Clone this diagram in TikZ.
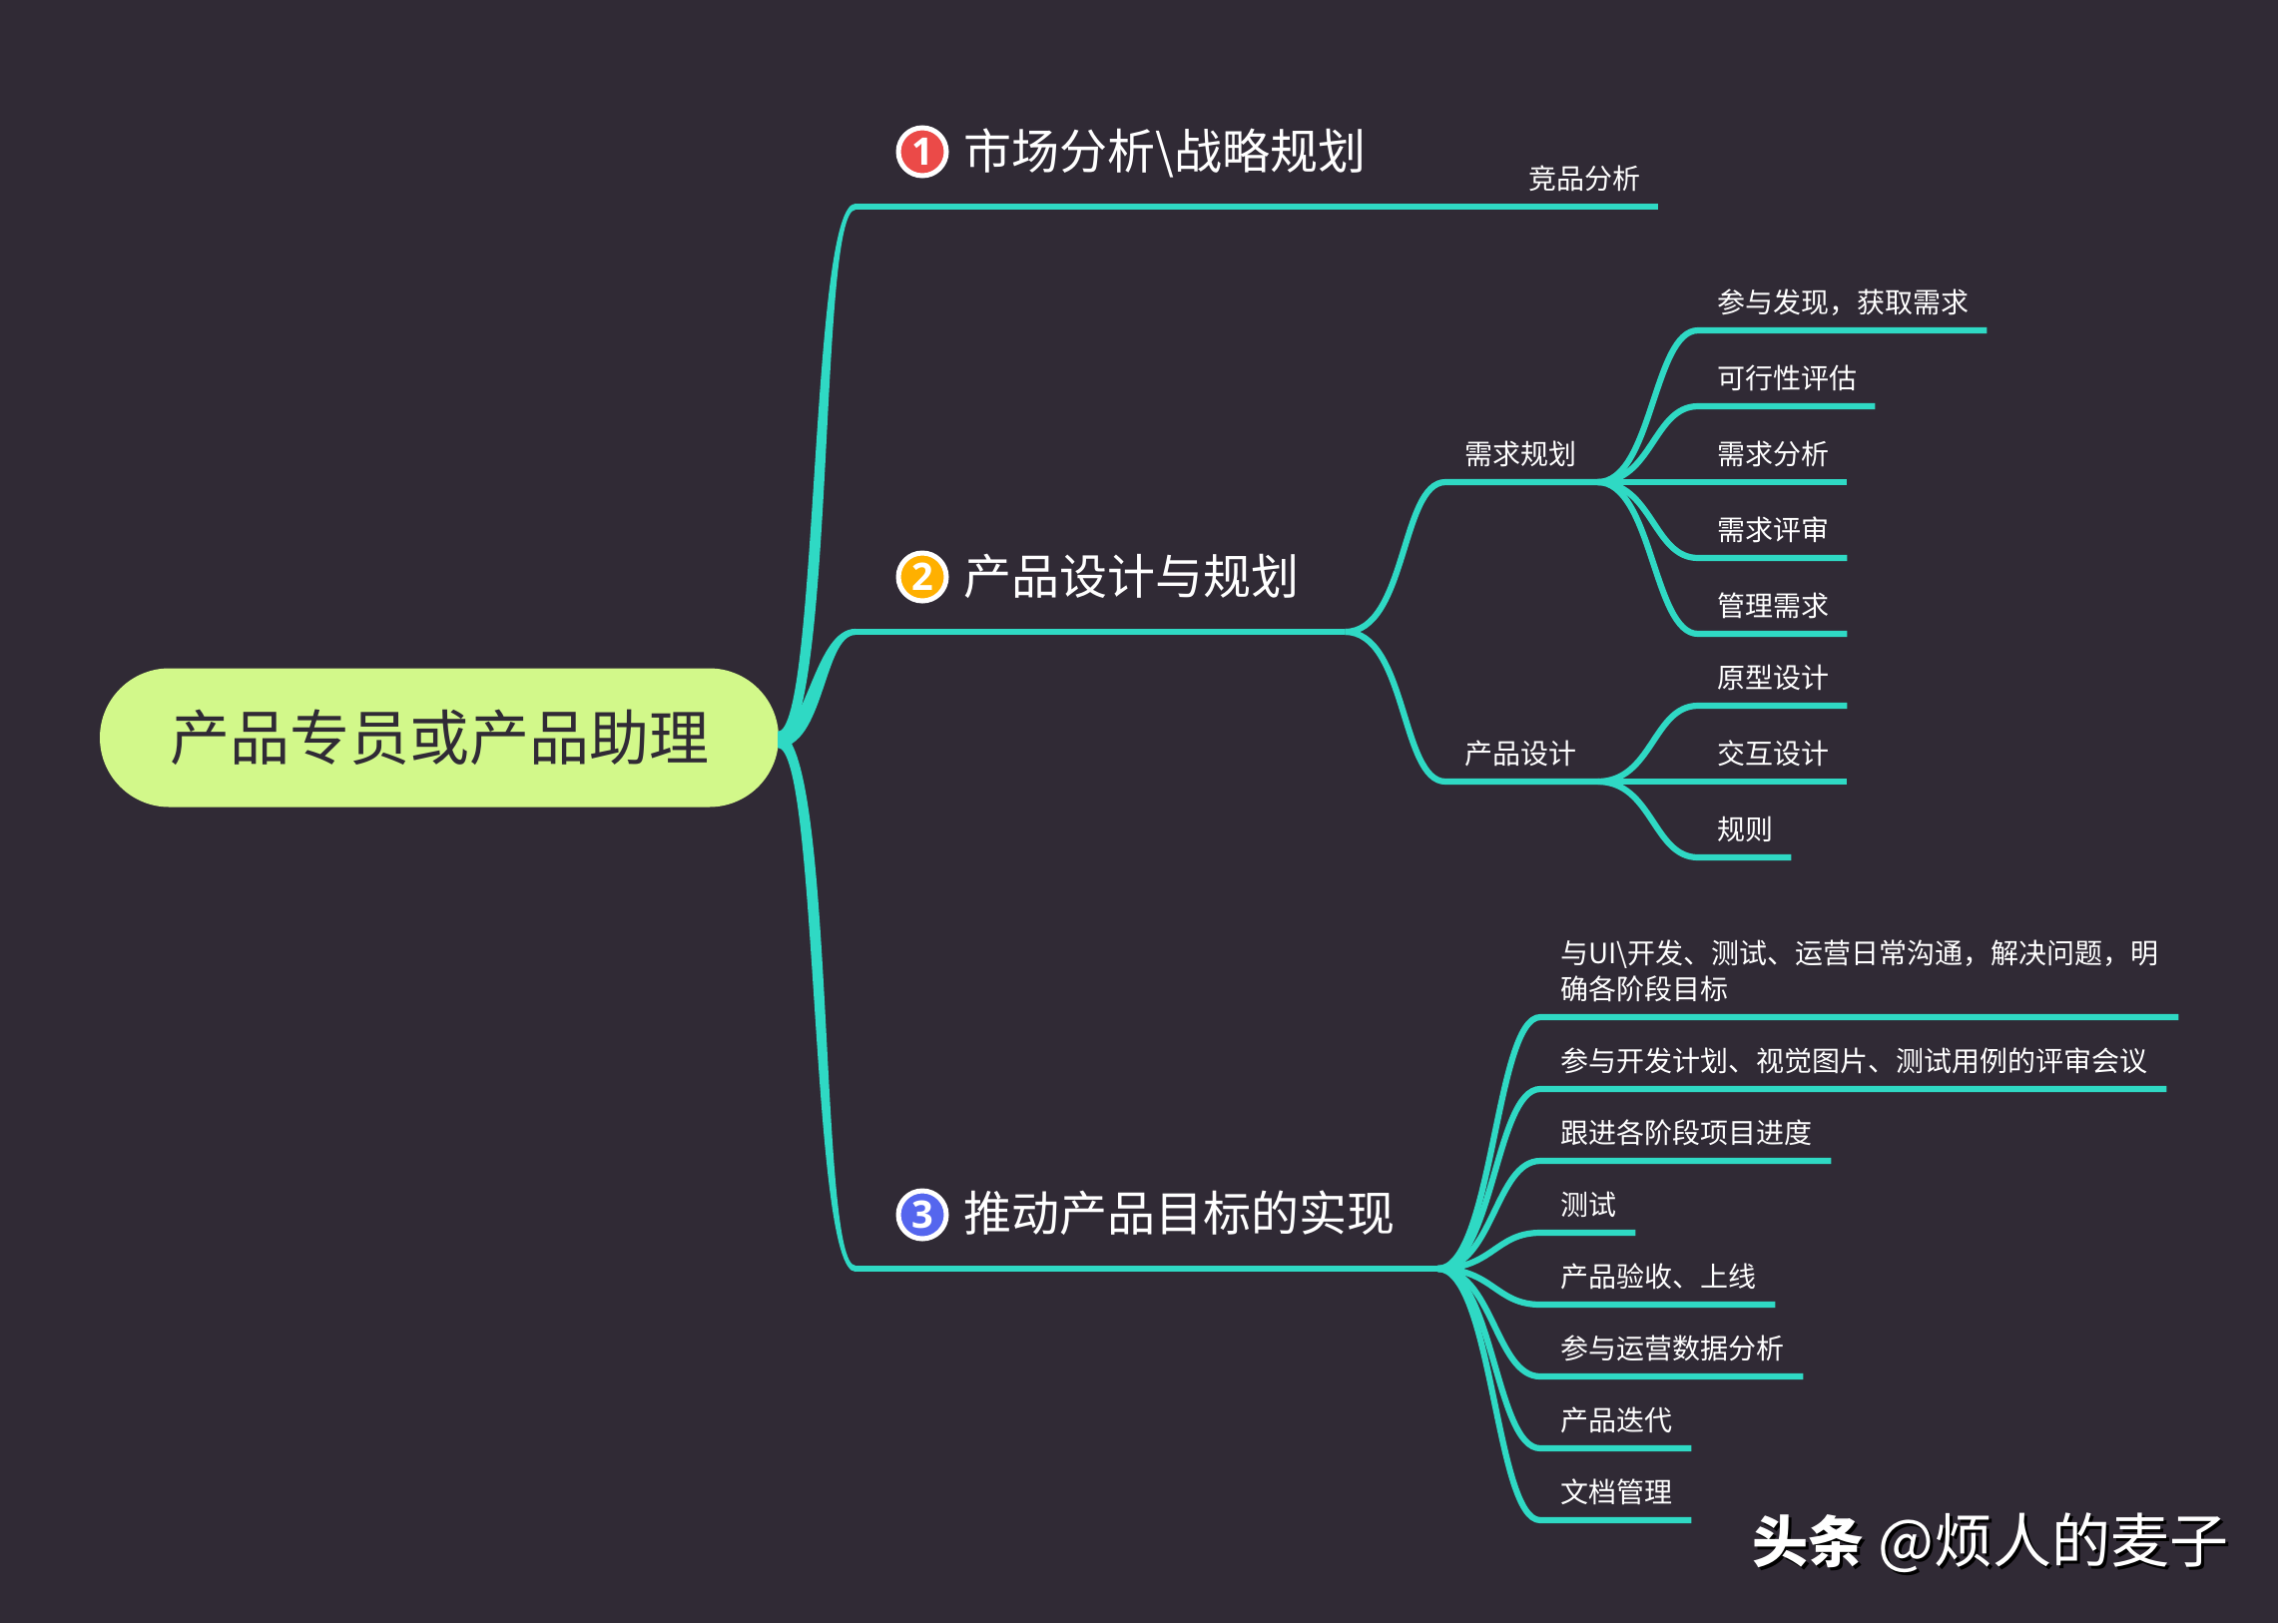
\documentclass[tikz,border=0pt]{standalone}
\usepackage{fontspec}
\setmainfont{Noto Sans CJK SC}
\newfontfamily\numfont{Open Sans}
\usetikzlibrary{shapes.misc,calc}
\definecolor{bgdark}{HTML}{302A35}
\definecolor{linkteal}{HTML}{2FD9C4}
\definecolor{rootlime}{HTML}{D2F88A}
\definecolor{iconred}{HTML}{EB4A48}
\definecolor{iconamber}{HTML}{FFB000}
\definecolor{iconblue}{HTML}{5566EE}
\tikzset{
  link/.style={draw=linkteal, line width=6.2pt},
  rootnode/.style={rounded rectangle, fill=rootlime, text=bgdark, minimum width=680pt, minimum height=139pt, inner sep=0pt, font=\fontsize{60}{70}\selectfont},
  linebox/.style={anchor=south west, inner sep=0pt, text=white, align=left},
  branchnode/.style={linebox, text depth=37pt, font=\fontsize{48}{56}\selectfont},
  leafnode/.style={linebox, text depth=17pt, font=\fontsize{28}{36}\selectfont},
  iconnode/.style={circle, draw=white, line width=5pt, minimum size=48pt, inner sep=0pt, text=white, font=\numfont\bfseries\fontsize{38}{44}\selectfont},
}
% thick root link that narrows towards the branch line
\newcommand{\taperlink}[4]{
  \fill[linkteal] ($(hub)+(0,-8)$) .. controls ($(hub)+({#2+#4*9},-8)$) and ($(#1)+({-#3+#4*4},-3.1)$) .. ($(#1)+(0,-3.1)$)
    -- ($(#1)+(0,3.1)$) .. controls ($(#1)+({-#3-#4*4},3.1)$) and ($(hub)+({#2-#4*9},8)$) .. ($(hub)+(0,8)$) -- cycle;
}
\newcommand{\leaflink}[3]{
  \draw[link] (#1) .. controls +(#3,0) and +(-45,0) .. (#2.south west) -- (#2.south east);
}
\begin{document}
\begin{tikzpicture}[x=1pt, y=-1pt]
  \path[fill=bgdark, use as bounding box] (0,0) rectangle (2282,1626);

  \node[rootnode] (root) at (440,739) {产品专员或产品助理};
  \coordinate (hub) at (779,741);

  % branches
  \node[branchnode, text width=653pt] (market) at (857,207) {\hspace*{108pt}市场分析\textbackslash 战略规划};
  \node[branchnode, text width=490pt] (design) at (857,633) {\hspace*{108pt}产品设计与规划};
  \node[branchnode, text width=583pt] (drive) at (857,1271) {\hspace*{108pt}推动产品目标的实现};
  \node[iconnode, fill=iconred] (iconmarket) at (924,152) {1};
  \node[iconnode, fill=iconamber] (icondesign) at (924,578) {2};
  \node[iconnode, fill=iconblue] (icondrive) at (924,1217) {3};

  \node[leafnode, text width=151pt] (compete) at (1510,207) {\hspace*{21pt}竞品分析};

  % second level
  \node[leafnode, text width=152pt] (demand) at (1448,483) {\hspace*{19pt}需求规划};
  \node[leafnode, text width=152pt] (proddesign) at (1448,783) {\hspace*{19pt}产品设计};

  \node[leafnode, text width=289pt] (discover) at (1701,331) {\hspace*{19pt}参与发现，获取需求};
  \node[leafnode, text width=177pt] (feasible) at (1701,407) {\hspace*{19pt}可行性评估};
  \node[leafnode, text width=149pt] (analyse) at (1701,483) {\hspace*{19pt}需求分析};
  \node[leafnode, text width=149pt] (review) at (1701,559) {\hspace*{19pt}需求评审};
  \node[leafnode, text width=149pt] (manage) at (1701,635) {\hspace*{19pt}管理需求};

  \node[leafnode, text width=149pt] (proto) at (1701,707) {\hspace*{19pt}原型设计};
  \node[leafnode, text width=149pt] (interact) at (1701,783) {\hspace*{19pt}交互设计};
  \node[leafnode, text width=93pt] (rules) at (1701,859) {\hspace*{19pt}规则};

  \node[leafnode, text width=639pt, text depth=53pt] (comms) at (1543,1019) {\hspace*{20pt}与UI\textbackslash 开发、测试、运营日常沟通，解决问题，明\\\hspace*{20pt}确各阶段目标};
  \node[leafnode, text width=627pt] (meeting) at (1543,1091) {\hspace*{20pt}参与开发计划、视觉图片、测试用例的评审会议};
  \node[leafnode, text width=291pt] (track) at (1543,1163) {\hspace*{20pt}跟进各阶段项目进度};
  \node[leafnode, text width=95pt] (testing) at (1543,1235) {\hspace*{20pt}测试};
  \node[leafnode, text width=235pt] (accept) at (1543,1307) {\hspace*{20pt}产品验收、上线};
  \node[leafnode, text width=263pt] (opsdata) at (1543,1379) {\hspace*{20pt}参与运营数据分析};
  \node[leafnode, text width=151pt] (iterate) at (1543,1451) {\hspace*{20pt}产品迭代};
  \node[leafnode, text width=151pt] (docs) at (1543,1523) {\hspace*{20pt}文档管理};

  % root to branches
  \taperlink{market.south west}{50}{42}{-1}
  \taperlink{design.south west}{38}{36}{-1}
  \taperlink{drive.south west}{50}{42}{1}

  \draw[link] (market.south west) -- (compete.south east);
  \draw[link] (design.south west) -- (design.south east);
  \draw[link] (drive.south west) -- (drive.south east);

  % design to second level
  \draw[link] (design.south east) .. controls +(62,0) and +(-45,0) .. (demand.south west) -- (demand.south east);
  \draw[link] (design.south east) .. controls +(62,0) and +(-45,0) .. (proddesign.south west) -- (proddesign.south east);

  % second level to leaves
  \leaflink{demand.south east}{discover}{55}
  \leaflink{demand.south east}{feasible}{55}
  \leaflink{demand.south east}{analyse}{55}
  \leaflink{demand.south east}{review}{55}
  \leaflink{demand.south east}{manage}{55}
  \leaflink{proddesign.south east}{proto}{55}
  \leaflink{proddesign.south east}{interact}{55}
  \leaflink{proddesign.south east}{rules}{55}

  \leaflink{drive.south east}{comms}{55}
  \leaflink{drive.south east}{meeting}{55}
  \leaflink{drive.south east}{track}{55}
  \leaflink{drive.south east}{testing}{55}
  \leaflink{drive.south east}{accept}{55}
  \leaflink{drive.south east}{opsdata}{55}
  \leaflink{drive.south east}{iterate}{55}
  \leaflink{drive.south east}{docs}{55}

  % watermark
  \node[anchor=west, inner sep=0pt, text=black, font=\fontsize{59}{64}\selectfont] (markshadow) at (1758,1549) {\textbf{\fontsize{56}{64}\selectfont 头条}\hspace{14pt}@烦人的麦子};
  \node[anchor=west, inner sep=0pt, text=white, font=\fontsize{59}{64}\selectfont] (watermark) at (1755,1546) {\textbf{\fontsize{56}{64}\selectfont 头条}\hspace{14pt}@烦人的麦子};
\end{tikzpicture}
\end{document}
